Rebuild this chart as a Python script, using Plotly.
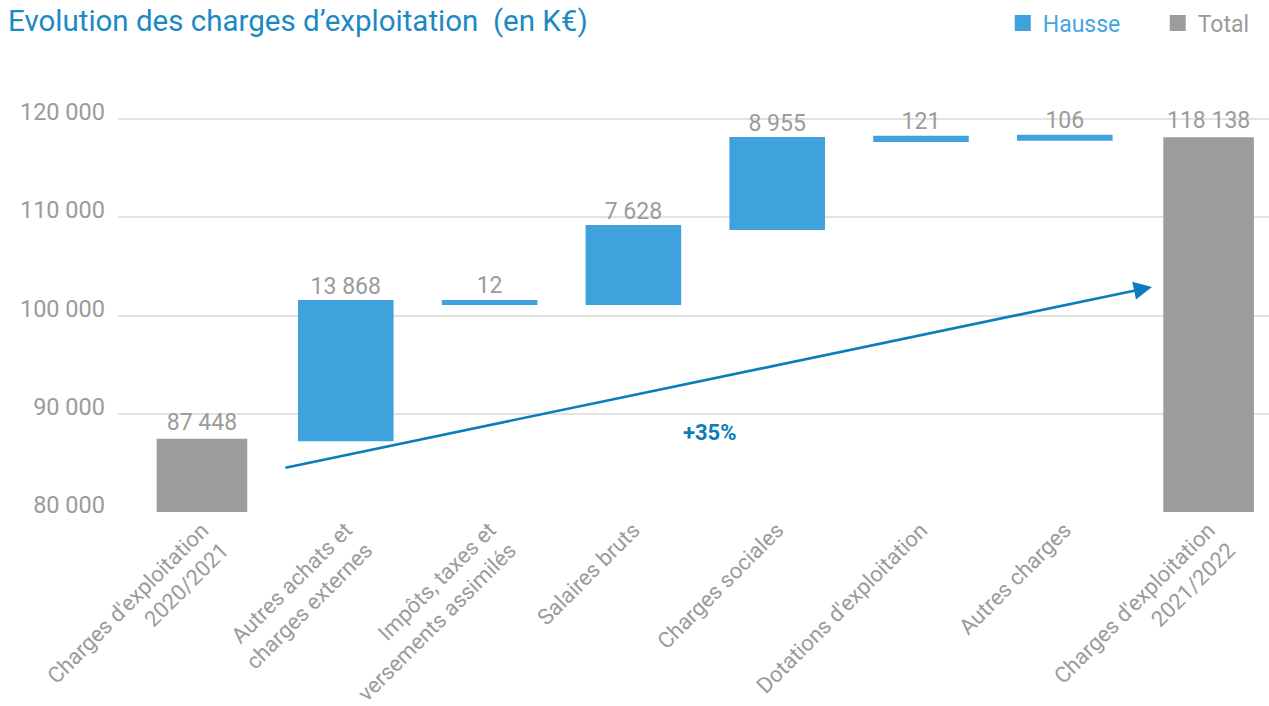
import plotly.graph_objects as go

categories = [
    "Charges d'exploitation<br>2020/2021",
    "Autres achats et<br>charges externes",
    "Impôts, taxes et<br>versements assimilés",
    "Salaires bruts",
    "Charges sociales",
    "Dotations d'exploitation",
    "Autres charges",
    "Charges d'exploitation<br>2021/2022",
]
measures = ["absolute", "relative", "relative", "relative", "relative", "relative", "relative", "total"]
values = [87448, 13868, 12, 7628, 8955, 121, 106, 118138]
y_ticks = [80000, 90000, 100000, 110000, 120000]
growth_label = "+35%"

BLUE = "#3FA2DC"
GREY = "#9D9C9A"
TXT = "#9B9B9B"
DARK_BLUE = "#0B7DBB"
FONT = "Roboto"

def fmt(v):
    return f"{v:,}".replace(",", " ")

fig = go.Figure()
fig.add_trace(go.Waterfall(
    x=categories,
    y=values,
    measure=measures,
    base=0,
    width=0.63,
    text=[fmt(v) for v in values],
    textposition="outside",
    textfont=dict(family=FONT, size=23, color=TXT),
    increasing=dict(marker=dict(color=BLUE, line=dict(color=BLUE, width=5))),
    decreasing=dict(marker=dict(color=BLUE)),
    totals=dict(marker=dict(color=GREY, line=dict(color=GREY, width=0))),
    connector=dict(visible=False),
    showlegend=False,
    cliponaxis=False,
))
# legend entries
fig.add_trace(go.Scatter(x=[None], y=[None], mode="markers", name="<span style='color:#45A5E0'>Hausse</span>",
                         marker=dict(symbol="square", size=17, color=BLUE)))
fig.add_trace(go.Scatter(x=[None], y=[None], mode="markers", name="<span style='color:#9B9B9B'>Total</span>",
                         marker=dict(symbol="square", size=17, color=GREY)))

fig.update_layout(
    width=1269, height=706,
    margin=dict(l=118, r=0, t=80, b=194, autoexpand=False),
    plot_bgcolor="white", paper_bgcolor="white",
    font=dict(family=FONT, color=TXT),
    separators=", ",
    showlegend=True,
    legend=dict(orientation="h", x=1.038, xanchor="right", xref="paper", y=1.132, yanchor="middle",
                font=dict(family=FONT, size=23, color=TXT), itemwidth=30,
                entrywidth=110, entrywidthmode="pixels",
                bgcolor="rgba(0,0,0,0)"),
    xaxis=dict(range=[-0.584, 7.42], tickangle=-45, showgrid=False, showline=False, zeroline=False,
               tickfont=dict(family=FONT, size=22, color=TXT), ticks=""),
    yaxis=dict(range=[80000, 123969], tickvals=y_ticks, ticktext=[fmt(v) for v in y_ticks],
               showgrid=True, gridcolor="#E2E2E2", gridwidth=1.5, zeroline=False, showline=False,
               tickfont=dict(family=FONT, size=23.5, color=TXT), ticks="", ticklabelshift=-7,
               ticklabelstandoff=12),
)

fig.add_annotation(x=6.606, y=102901, ax=0.57, ay=84478, xref="x", yref="y", axref="x", ayref="y",
                   text="", showarrow=True, arrowhead=2, arrowsize=1.4, arrowwidth=2.6,
                   arrowcolor=DARK_BLUE, standoff=0, startstandoff=0)
fig.add_annotation(x=3.53, y=88140, xref="x", yref="y", text=f"<b>{growth_label}</b>", showarrow=False,
                   font=dict(family=FONT, size=22, color=DARK_BLUE))
fig.add_annotation(x=0, xref="paper", xanchor="left", xshift=-112, y=1.137, yref="paper", yanchor="middle",
                   text="Evolution des charges d’exploitation  (en K€)", showarrow=False,
                   font=dict(family=FONT, size=29.5, color="#1D89C4"))

fig.write_html("out.html")
